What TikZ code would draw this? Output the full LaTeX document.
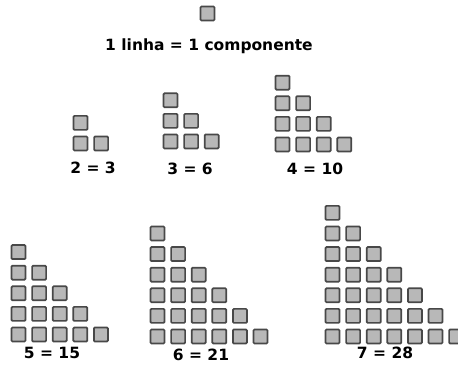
\documentclass[tikz,border=0pt]{standalone}
\usepackage{fontspec}
\setmainfont{DejaVu Sans}
\usepackage{tikz}
\usetikzlibrary{positioning}
\definecolor{cellgray}{RGB}{184,184,184}
\definecolor{celledge}{RGB}{72,72,72}

\begin{document}
\begin{tikzpicture}[x=1pt,y=-1pt,
    cell/.style={draw=celledge,fill=cellgray,line width=1.7pt,rounded corners=1pt,
                 minimum size=14pt,inner sep=0pt},
    sumlabel/.style={font=\bfseries\fontsize{15.5}{18}\selectfont,inner sep=0pt}]
                \def\p{20.6}
                \useasboundingbox (0,0) rectangle (458,371);
                %Triangles: rows / centre of the bottom-left cell
                \foreach \n/\xo/\yo in {1/207.5/13.5, 2/80.5/143.5, 3/170.5/141.5, 4/282.5/144.5,
                                        5/18.5/334.5, 6/157.5/336.5, 7/332.5/336.5}{
                    \foreach \r in {1,...,\n}{
                        \pgfmathtruncatemacro\k{\n-\r+1}
                        \foreach \c in {1,...,\k}
                            \node[cell] (c\n-\r-\c) at ({\xo+(\c-1)*\p},{\yo-(\r-1)*\p}) {};
                    }
                }
                %Labels
                \node[sumlabel,anchor=west] (titulo) at (105,46) {1 linha = 1 componente};
                \node[sumlabel] (s2) at (93,168) {2 = 3};
                \node[sumlabel] (s3) at (190,169) {3 = 6};
                \node[sumlabel] (s4) at (315,169) {4 = 10};
                \node[sumlabel] (s5) at (52,353) {5 = 15};
                \node[sumlabel] (s6) at (201,355) {6 = 21};
                \node[sumlabel] (s7) at (385,353) {7 = 28};
            \end{tikzpicture}
\end{document}
